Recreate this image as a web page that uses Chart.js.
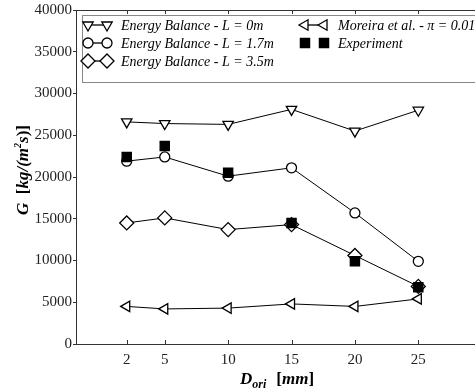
<!DOCTYPE html>
<html>
<head>
<meta charset="utf-8">
<script src="https://cdn.jsdelivr.net/npm/chart.js@4.4.1/dist/chart.umd.min.js"></script>
<style>
  html, body { margin: 0; padding: 0; background: #fff; overflow: hidden; }
  #wrap { width: 475px; height: 392px; overflow: hidden; }
</style>
</head>
<body>
<div id="wrap"><canvas id="chart" width="490" height="392"></canvas></div>
<script>
// diameters of the orifice (mm)
const dOri = [2, 5, 10, 15, 20, 25];
const xTicks = [2, 5, 10, 15, 20, 25];
const yTicks = [0, 5000, 10000, 15000, 20000, 25000, 30000, 35000, 40000];

// mass flux G (kg/(m^2 s))
const ebL0 = [26600, 26400, 26300, 28100, 25500, 28000];
const ebL17 = [21900, 22400, 20100, 21100, 15700, 9900];
const ebL35 = [14500, 15100, 13700, 14300, 10600, 6900];
const moreira = [4500, 4200, 4300, 4800, 4500, 5400];
const experiment = [22400, 23700, 20500, 14500, 9900, 6800];

const SERIF = '"Liberation Serif", "DejaVu Serif", serif';

function pts(ys) {
    return dOri.map((x, i) => ({ x: x, y: ys[i] }));
}

function series(label, ys, style, rot, r, filled, showLine, order) {
    return {
        label: label,
        data: pts(ys),
        borderColor: '#000',
        backgroundColor: filled ? '#000' : '#fff',
        borderWidth: 1,
        pointBorderWidth: 1.3,
        pointStyle: style,
        rotation: rot,
        pointRadius: r,
        showLine: showLine,
        order: order
    };
}

const datasets = [
    series('Energy Balance - L = 0m', ebL0, 'triangle', 180, 6, false, true, 2),
    series('Energy Balance - L = 1.7m', ebL17, 'circle', 0, 5, false, true, 2),
    series('Energy Balance - L = 3.5m', ebL35, 'rectRot', 0, 7, false, true, 2),
    series('Moreira et al. - \u03c0 = 0.01', moreira, 'triangle', 270, 6, false, true, 2),
    series('Experiment', experiment, 'rect', 0, 6.5, true, false, 0)
];

// frame, inward x ticks, axis titles and the two column legend
const decor = {
    id: 'decor',
    afterDatasetsDraw(chart) {
        const ctx = chart.ctx;
        const a = chart.chartArea;
        const xs = chart.scales.x;
        ctx.save();
        ctx.strokeStyle = '#333';
        ctx.lineWidth = 1;
        ctx.strokeRect(a.left + 0.5, a.top + 0.5, a.right - a.left, a.bottom - a.top);
        ctx.beginPath();
        xTicks.forEach(v => {
            const px = Math.round(xs.getPixelForValue(v)) + 0.5;
            ctx.moveTo(px, a.bottom);
            ctx.lineTo(px, a.bottom - 4);
            ctx.moveTo(px, a.top);
            ctx.lineTo(px, a.top + 4);
        });
        ctx.stroke();

        // legend box
        const bx = 82, by = 15, bw = 420, bh = 67;
        ctx.fillStyle = '#fff';
        ctx.fillRect(bx, by, bw, bh);
        ctx.strokeStyle = '#888';
        ctx.strokeRect(bx + 0.5, by + 0.5, bw, bh);

        const slots = [
            { i: 0, x: 88, y: 25 },
            { i: 1, x: 88, y: 43 },
            { i: 2, x: 88, y: 61 },
            { i: 3, x: 305, y: 25 },
            { i: 4, x: 305, y: 43 }
        ];
        slots.forEach(s => {
            const ds = chart.data.datasets[s.i];
            const x1 = s.x, x2 = s.x + 19;
            ctx.strokeStyle = '#000';
            ctx.lineWidth = 1.3;
            if (ds.showLine) {
                ctx.beginPath();
                ctx.moveTo(x1, s.y);
                ctx.lineTo(x2, s.y);
                ctx.stroke();
            }
            ctx.fillStyle = ds.backgroundColor;
            const opt = { pointStyle: ds.pointStyle, rotation: ds.rotation, radius: ds.pointRadius, borderWidth: 1.3 };
            Chart.helpers.drawPoint(ctx, opt, x1, s.y);
            Chart.helpers.drawPoint(ctx, opt, x2, s.y);
            ctx.fillStyle = '#000';
            ctx.font = 'italic 14px ' + SERIF;
            ctx.textBaseline = 'middle';
            ctx.textAlign = 'left';
            ctx.fillText(ds.label, x2 + 14, s.y + 1);
        });

        // x title: D_ori [mm]
        ctx.fillStyle = '#000';
        ctx.textBaseline = 'alphabetic';
        ctx.font = 'italic bold 17px ' + SERIF;
        let tx = 240;
        const ty = 384;
        ctx.fillText('D', tx, ty);
        tx += ctx.measureText('D').width;
        ctx.font = 'italic bold 12px ' + SERIF;
        ctx.fillText('ori', tx, ty + 4);
        tx += ctx.measureText('ori').width + 10;
        ctx.font = 'bold 17px ' + SERIF;
        ctx.fillText('[', tx, ty);
        tx += ctx.measureText('[').width;
        ctx.font = 'italic bold 17px ' + SERIF;
        ctx.fillText('mm', tx, ty);
        tx += ctx.measureText('mm').width;
        ctx.font = 'bold 17px ' + SERIF;
        ctx.fillText(']', tx, ty);

        // y title: G [kg/(m^2 s)]
        ctx.translate(28, 170);
        ctx.rotate(-Math.PI / 2);
        const parts = [
            ['italic bold 17px ', 'G', 0],
            ['bold 17px ', '  [', 0],
            ['italic bold 17px ', 'kg/(m', 0],
            ['italic bold 10px ', '2', -7],
            ['italic bold 17px ', 's', 0],
            ['bold 17px ', ')]', 0]
        ];
        let total = 0;
        parts.forEach(p => { ctx.font = p[0] + SERIF; total += ctx.measureText(p[1]).width; });
        let px = -total / 2;
        parts.forEach(p => {
            ctx.font = p[0] + SERIF;
            ctx.fillText(p[1], px, p[2]);
            px += ctx.measureText(p[1]).width;
        });
        ctx.restore();
    }
};

new Chart(document.getElementById('chart'), {
    type: 'scatter',
    data: { datasets: datasets },
    plugins: [decor],
    options: {
        responsive: false,
        animation: false,
        devicePixelRatio: 1,
        layout: { padding: { top: 9, right: 7, left: 0, bottom: 0 } },
        plugins: { legend: { display: false }, tooltip: { enabled: false } },
        scales: {
            x: {
                type: 'linear',
                min: -2,
                max: 30,
                afterBuildTicks: s => { s.ticks = xTicks.map(v => ({ value: v })); },
                afterFit: s => { s.height = 48; },
                grid: { display: false, drawTicks: false },
                border: { color: '#333' },
                ticks: { color: '#222', padding: 7, font: { family: SERIF, size: 15 }, callback: v => String(v) }
            },
            y: {
                min: 0,
                max: 40000,
                afterBuildTicks: s => { s.ticks = yTicks.map(v => ({ value: v })); },
                afterFit: s => { s.width = 76; },
                grid: { drawOnChartArea: false, tickLength: 3, color: '#333' },
                border: { color: '#333' },
                ticks: { color: '#222', padding: 1, font: { family: SERIF, size: 15 }, callback: v => String(v) }
            }
        }
    }
});
</script>
</body>
</html>
